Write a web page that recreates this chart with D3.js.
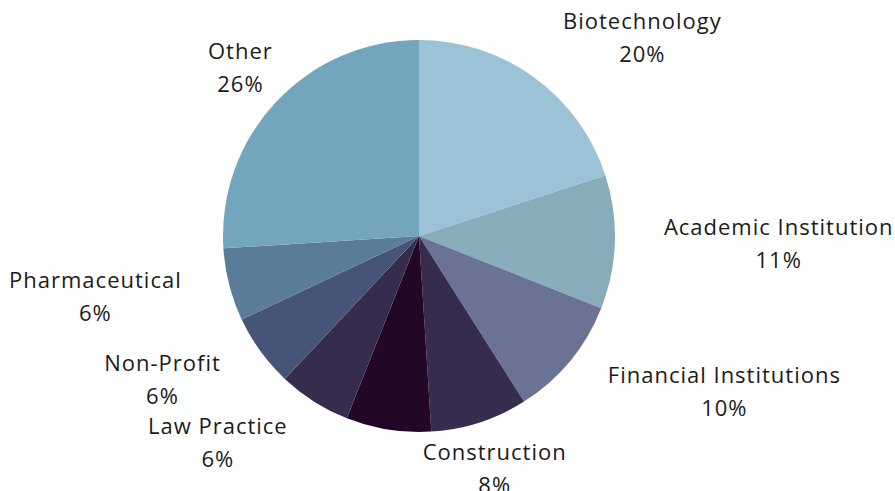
<!DOCTYPE html>
<html>
<head>
<meta charset="utf-8">
<script src="https://cdn.jsdelivr.net/npm/d3@7"></script>
<style>
  body { margin: 0; background: #fff; }
  text { font-family: "Open Sans", sans-serif; fill: #1b1b1b; letter-spacing: 1px; }
</style>
</head>
<body>
<div id="chart-area"></div>
<script>
// data, clockwise from 12 o'clock
let categories = ["Biotechnology", "Academic Institution", "Financial Institutions", "Construction",
    "", "Law Practice", "Non-Profit", "Pharmaceutical", "Other"];
let shares = [20, 11, 10, 8, 7, 6, 6, 6, 26];
let colors = ["#9cc3d5", "#89acbb", "#6a7393", "#352c4e", "#230726", "#352c4e", "#465577", "#5b7c99", "#73a6bc"];
// how each label block sits against its anchor point
let labelAnchor = ["start", "start", "start", "middle", "middle", "end", "end", "end", "middle"];

let width = 895;
let height = 491;
let radius = 196;
let labelRadius = 245;
let fontSize = 22;
let lineGap = 33;

var svg = d3.select('#chart-area')
    .append('svg')
    .attr('width', width)
    .attr('height', height);

var g = svg.append('g')
    .attr('transform', 'translate(419, 236)');

var data = categories.map(function(c, i) {
    return { name: c, value: shares[i], color: colors[i], anchor: labelAnchor[i] };
});

var pie = d3.pie()
    .sort(null)
    .value(function(d) { return d.value; });

var arc = d3.arc()
    .innerRadius(0)
    .outerRadius(radius);

var arcs = pie(data);

g.selectAll('path.slice')
    .data(arcs)
    .enter()
    .append('path')
    .attr('class', 'slice')
    .attr('d', arc)
    .attr('fill', function(d) { return d.data.color; });

// labels (the unnamed slice has none)
var labels = g.selectAll('g.label')
    .data(arcs.filter(function(d) { return d.data.name !== ''; }))
    .enter()
    .append('g')
    .attr('class', 'label');

labels.append('text')
    .attr('class', 'name')
    .attr('text-anchor', 'middle')
    .attr('font-size', fontSize + 'px')
    .attr('y', -lineGap / 2)
    .attr('dy', '0.35em')
    .text(function(d) { return d.data.name; });

labels.append('text')
    .attr('class', 'pct')
    .attr('text-anchor', 'middle')
    .attr('font-size', fontSize + 'px')
    .attr('y', lineGap / 2)
    .attr('dy', '0.35em')
    .text(function(d) { return d.data.value + '%'; });

labels.attr('transform', function(d) {
    var a = (d.startAngle + d.endAngle) / 2;
    var px = Math.sin(a) * labelRadius;
    var py = -Math.cos(a) * labelRadius;
    var w = this.getBBox().width;
    if (d.data.anchor === 'start') px += w / 2;
    if (d.data.anchor === 'end') px -= w / 2;
    return 'translate(' + px + ', ' + py + ')';
});
</script>
</body>
</html>
